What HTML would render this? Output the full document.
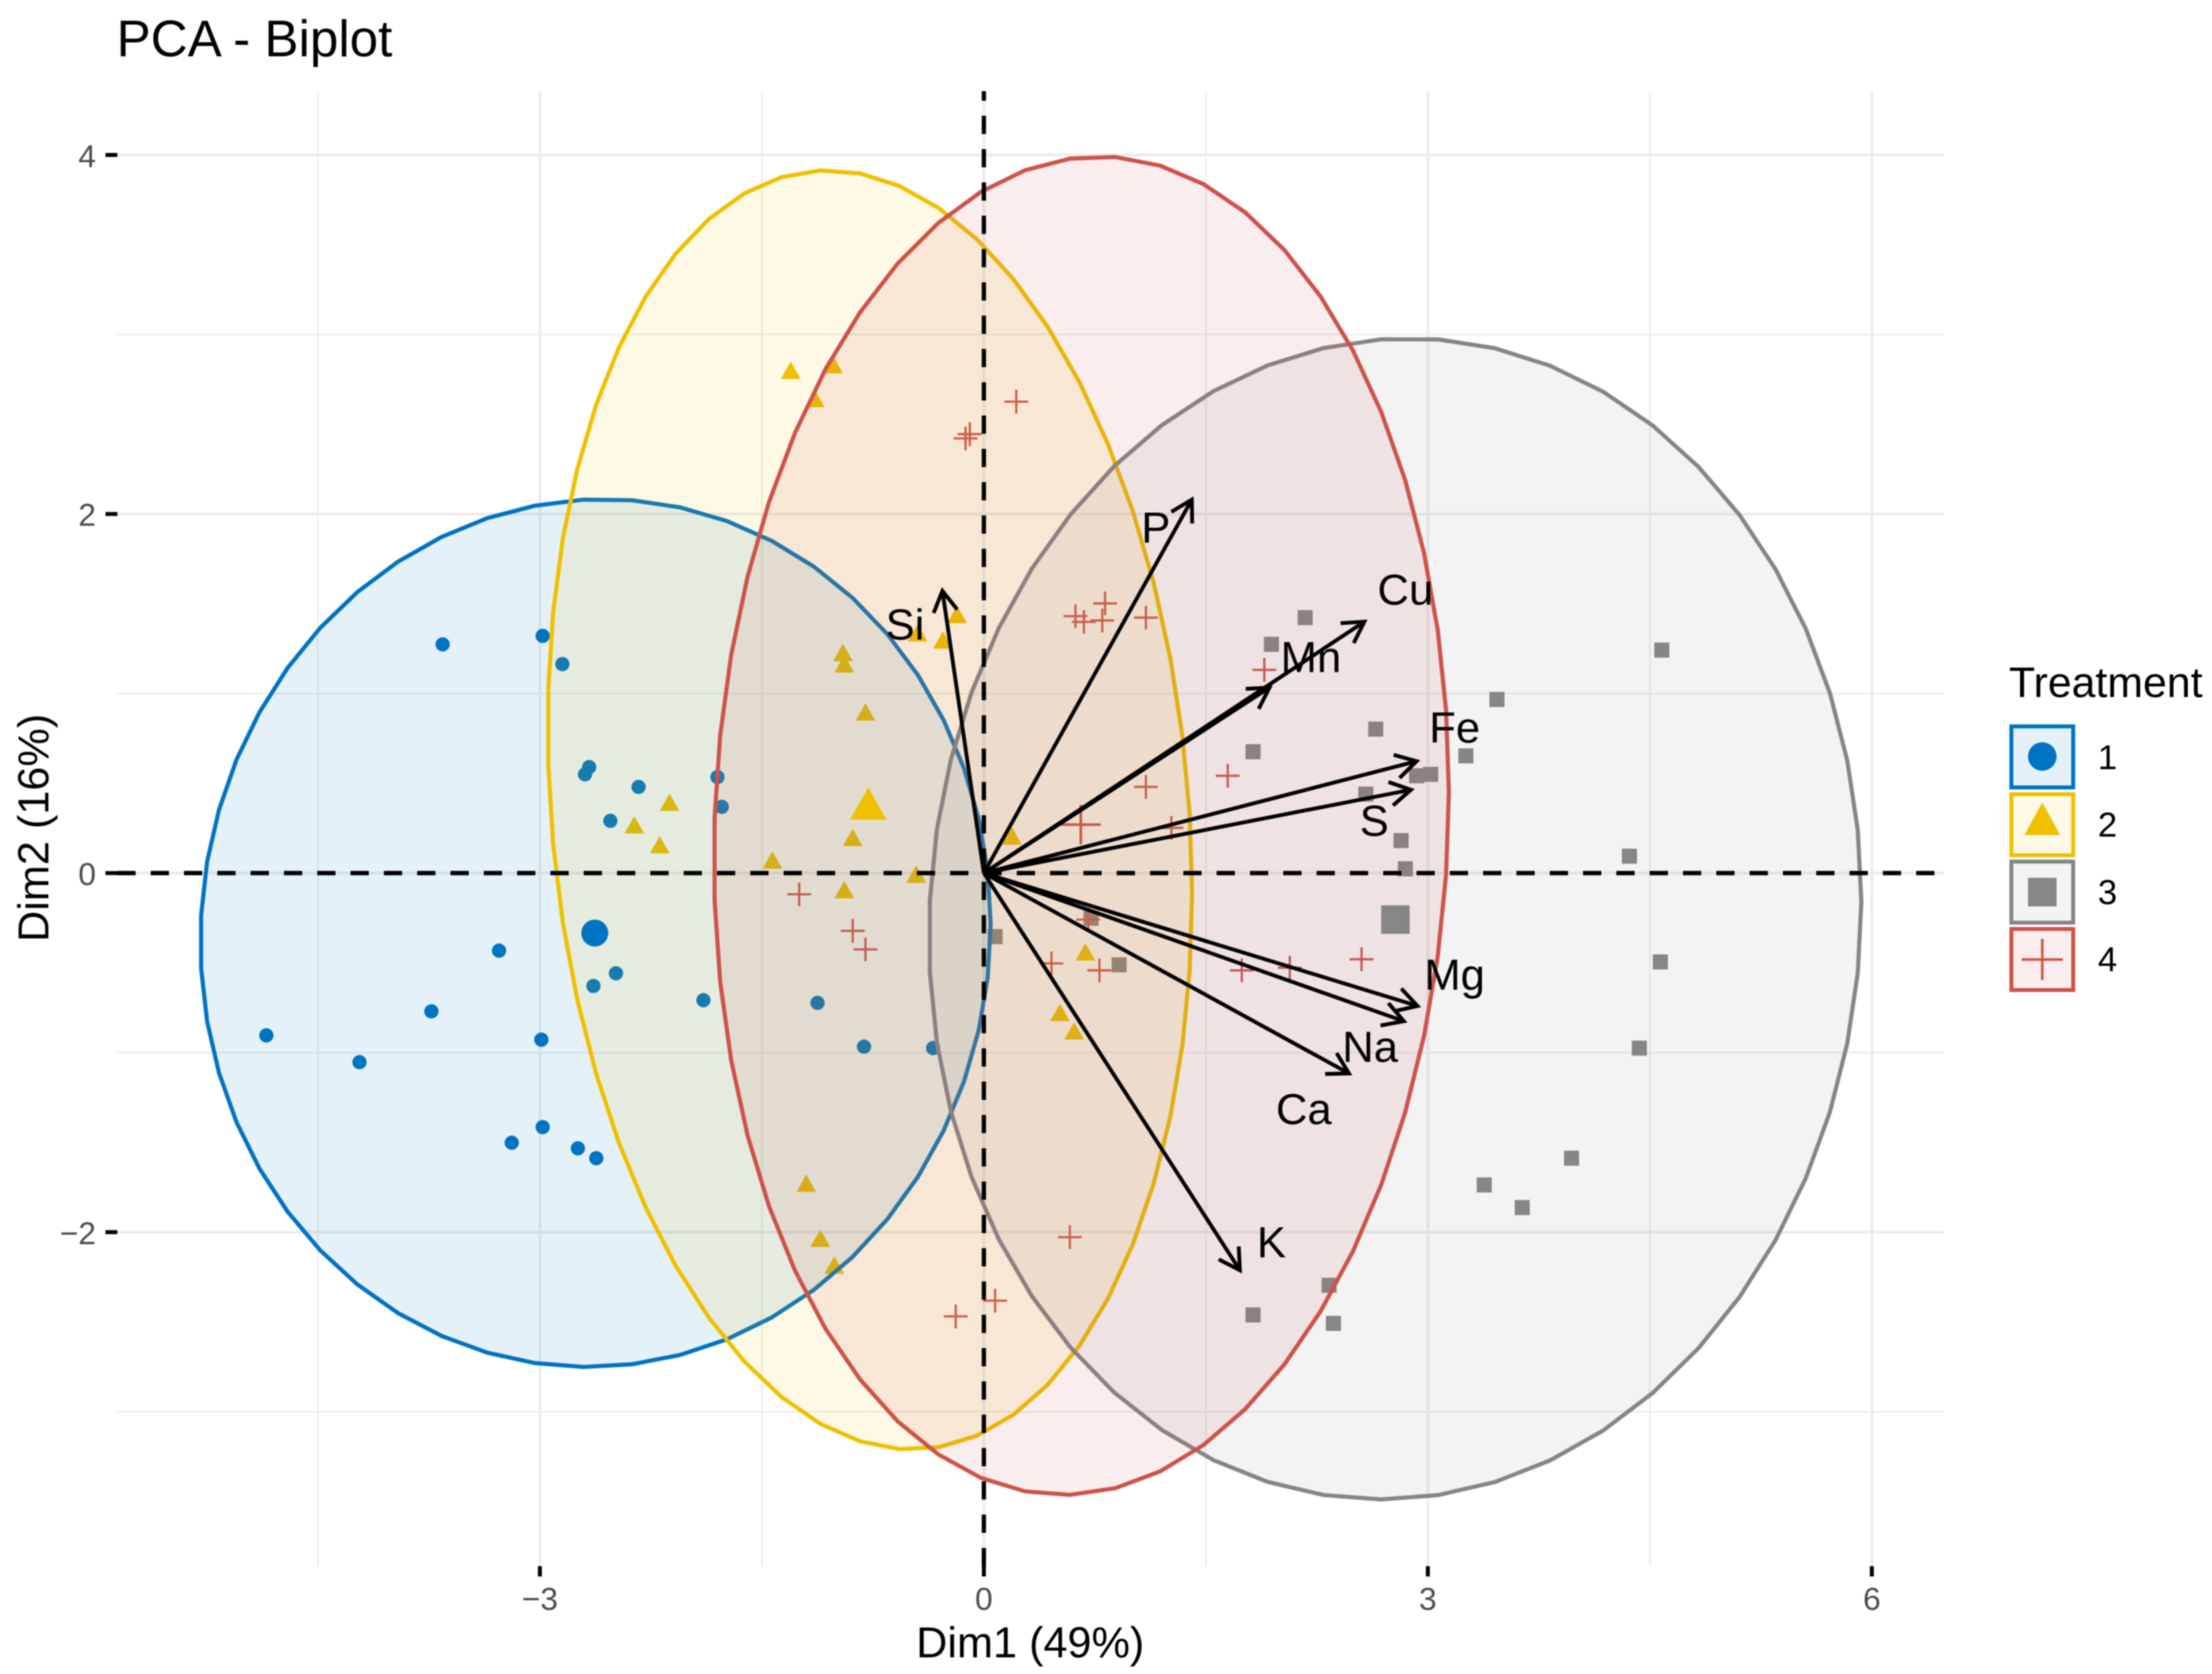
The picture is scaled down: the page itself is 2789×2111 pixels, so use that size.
<!DOCTYPE html>
<html>
<head>
<meta charset="utf-8">
<title>PCA - Biplot</title>
<style>
html,body{margin:0;padding:0;background:#fff;}
svg{display:block;font-family:"Liberation Sans",Arial,sans-serif;filter:blur(0.7px);}
</style>
</head>
<body>
<svg id="chart" xmlns="http://www.w3.org/2000/svg" width="2789" height="2111" viewBox="0 0 2789 2111">
  <rect width="2789" height="2111" fill="#fff"/>
  <g id="layer-grid"></g>
  <g id="layer-points"></g>
  <g id="layer-ellipses"></g>
  <g id="layer-means"></g>
  <g id="layer-ref"></g>
  <g id="layer-arrows"></g>
  <g id="layer-ticks"></g>

  <text x="147" y="71" font-size="64.5" fill="#000">PCA - Biplot</text>
  <text x="1299" y="2090" font-size="54.5" text-anchor="middle" fill="#000">Dim1 (49%)</text>
  <text transform="translate(61,1044) rotate(-90)" font-size="54.5" text-anchor="middle" fill="#000">Dim2 (16%)</text>

  <g>
    <text x="2533" y="879" font-size="54" fill="#000">Treatment</text>
    <g>
      <rect x="2536" y="916" width="78" height="77" fill="#0073C2" fill-opacity="0.1" stroke="#0073C2" stroke-width="5"/>
      <circle cx="2575" cy="954" r="18" fill="#0073C2"/>
      <text x="2645" y="970" font-size="44" fill="#000">1</text>
    </g>
    <g>
      <rect x="2536" y="1001.5" width="78" height="77" fill="#EFC000" fill-opacity="0.1" stroke="#EFC000" stroke-width="5"/>
      <polygon points="2575,1012 2597.5,1053 2552.5,1053" fill="#EFC000"/>
      <text x="2645" y="1055" font-size="44" fill="#000">2</text>
    </g>
    <g>
      <rect x="2536" y="1086.5" width="78" height="77" fill="#868686" fill-opacity="0.1" stroke="#868686" stroke-width="5"/>
      <rect x="2557" y="1107" width="36" height="36" fill="#868686"/>
      <text x="2645" y="1140" font-size="44" fill="#000">3</text>
    </g>
    <g>
      <rect x="2536" y="1171.5" width="78" height="77" fill="#CD534C" fill-opacity="0.1" stroke="#CD534C" stroke-width="5"/>
      <path d="M2549 1210H2601M2575 1184V1236" stroke="#CD534C" stroke-width="3.2" fill="none"/>
      <text x="2645" y="1225" font-size="44" fill="#000">4</text>
    </g>
  </g>
</svg>
<script>
// ---- chart data (all values in PCA data units) ----
const xMajorTicks = [-3, 0, 3, 6];
const xMinorTicks = [-4.5, -1.5, 1.5, 4.5];
const yMajorTicks = [-2, 0, 2, 4];
const yMinorTicks = [-3, -1, 1, 3];
const xTickLabels = ['\u22123', '0', '3', '6'];
const yTickLabels = ['\u22122', '0', '2', '4'];

const group1X = [-3.657,-2.981,-2.848,-2.667,-2.695,-2.333,-2.524,-1.800,-1.771,-3.276,-3.733,-4.848,-4.219,-2.990,-2.638,-2.486,-1.895,-1.124,-0.810,-0.343,-2.981,-3.190,-2.743,-2.619];
const group1Y = [1.274,1.321,1.164,0.590,0.550,0.480,0.291,0.535,0.369,-0.432,-0.770,-0.904,-1.053,-0.928,-0.629,-0.558,-0.708,-0.723,-0.967,-0.975,-1.415,-1.502,-1.533,-1.588];

const group2X = [-1.305,-1.019,-1.143,-0.181,-0.448,-0.276,-0.952,-0.943,-0.800,-2.124,-2.362,-2.190,-0.886,-1.429,-0.943,-0.457,0.190,0.686,0.514,0.610,-1.200,-1.105,-1.010];
const group2Y = [2.791,2.822,2.634,1.431,1.329,1.289,1.219,1.156,0.888,0.385,0.259,0.149,0.189,0.063,-0.102,-0.016,0.197,-0.448,-0.786,-0.888,-1.737,-2.044,-2.193];

const group3X = [2.171,1.943,4.581,3.467,2.648,1.819,3.257,2.924,3.019,2.581,2.819,2.848,4.362,0.076,0.724,0.914,4.571,4.429,3.971,3.381,3.638,2.333,1.819,2.362];
const group3Y = [1.423,1.274,1.242,0.967,0.802,0.676,0.653,0.542,0.550,0.440,0.181,0.024,0.094,-0.354,-0.252,-0.511,-0.495,-0.975,-1.588,-1.737,-1.863,-2.296,-2.461,-2.508];

const group4X = [0.219,-0.095,-0.124,0.819,0.619,0.676,0.800,1.095,1.895,1.648,1.095,1.267,-1.248,-0.886,-0.800,0.457,0.705,0.781,1.743,2.067,2.552,0.581,0.076,-0.190];
const group4Y = [2.626,2.445,2.421,1.502,1.431,1.399,1.407,1.423,1.132,0.542,0.480,0.252,-0.118,-0.322,-0.425,-0.503,-0.259,-0.542,-0.542,-0.527,-0.480,-2.028,-2.382,-2.469];

const meanX = [-2.629, -0.781, 2.781, 0.655];
const meanY = [-0.334, 0.369, -0.259, 0.270];

const ellipseCenterX = [-2.624, -0.770, 2.779, 0.659];
const ellipseCenterY = [-0.334, 0.352, -0.255, 0.264];
const ellipseRadiusX = [2.670, 2.177, 3.150, 2.483];
const ellipseRadiusY = [2.417, 3.563, 3.234, 3.728];
const ellipseTilt = [0.02, -0.13, 0.03, 0.05];

const variableNames = ['P','Si','Cu','Mn','Fe','S','Mg','Na','Ca','K'];
const arrowEndX = [1.405,-0.280,2.571,1.930,2.924,2.886,2.930,2.838,2.467,1.730];
const arrowEndY = [2.080,1.572,1.400,1.033,0.623,0.464,-0.740,-0.825,-1.116,-2.212];
const variableLabelX = [1.162,-0.533,2.848,2.210,3.181,2.638,3.181,2.610,2.162,1.943];
const variableLabelY = [1.926,1.384,1.580,1.203,0.810,0.291,-0.566,-0.967,-1.313,-2.055];

// ---- axis functions ----
const panel = {left:148, right:2451, top:115, bottom:1975};
const xScale = v => 1240.5 + v * 186.6;
const yScale = v => 1101 - v * 226.4;
const NS = 'http://www.w3.org/2000/svg';
function make(tag, attrs, parent){
  const el = document.createElementNS(NS, tag);
  for (const k in attrs) el.setAttribute(k, attrs[k]);
  parent.appendChild(el);
  return el;
}
const L = id => document.getElementById(id);
const colors = ['#0073C2','#EFC000','#868686','#CD534C'];

// grid
xMinorTicks.forEach(v => {
  const el = make('line',{x1:xScale(v),x2:xScale(v),y1:panel.top,y2:panel.bottom,stroke:'#EBEBEB','stroke-width':2},L('layer-grid'));
  
  
});
yMinorTicks.forEach(v => {
  const el = make('line',{x1:panel.left,x2:panel.right,y1:yScale(v),y2:yScale(v),stroke:'#EBEBEB','stroke-width':2},L('layer-grid'));
  
  
});
xMajorTicks.forEach(v => {
  const el = make('line',{x1:xScale(v),x2:xScale(v),y1:panel.top,y2:panel.bottom,stroke:'#EBEBEB','stroke-width':3.5},L('layer-grid'));
  
  
});
yMajorTicks.forEach(v => {
  const el = make('line',{x1:panel.left,x2:panel.right,y1:yScale(v),y2:yScale(v),stroke:'#EBEBEB','stroke-width':3.5},L('layer-grid'));
  
  
});

// marker drawing
function drawMarker(kind, px, py, size, parent){
  const c = colors[kind];
  let el;
  if (kind === 0) {
    el = make('circle',{cx:px,cy:py,r:size/2,fill:c},parent);
  } else if (kind === 1) {
    const h = size * 0.88;
    el = make('polygon',{points:`${px},${py-h*0.6} ${px+size/2},${py+h*0.4} ${px-size/2},${py+h*0.4}`,fill:c},parent);
  } else if (kind === 2) {
    el = make('rect',{x:px-size/2,y:py-size/2,width:size,height:size,fill:c},parent);
  } else {
    el = make('path',{d:`M${px-size/2} ${py}H${px+size/2}M${px} ${py-size/2}V${py+size/2}`,stroke:c,'stroke-width':size>40?3.2:2.8,fill:'none'},parent);
  }
  return el;
}

// individual points (underneath the ellipse fills)
[[group1X,group1Y,18],[group2X,group2Y,25],[group3X,group3Y,19],[group4X,group4Y,30]].forEach((g,kind) => {
  g[0].forEach((v,i) => {
    const el = drawMarker(kind, xScale(v), yScale(g[1][i]), g[2], L('layer-points'));
    
    
  });
});

// ellipses (51-segment outlines like stat_ellipse)
ellipseCenterX.forEach((cx,i) => {
  const pts = [];
  for (let s = 0; s <= 51; s++) {
    const t = s * 2 * Math.PI / 51;
    const dx = ellipseRadiusX[i] * Math.cos(t);
    const dy = ellipseRadiusY[i] * Math.sin(t + Math.asin(ellipseTilt[i]));
    pts.push(xScale(cx + dx).toFixed(1) + ',' + yScale(ellipseCenterY[i] + dy).toFixed(1));
  }
  const el = make('polygon',{points:pts.join(' '),fill:colors[i],'fill-opacity':0.1,stroke:colors[i],'stroke-width':5.2,'stroke-linejoin':'round'},L('layer-ellipses'));
  
  
});

// group means
const meanSizes = [34,46,36,50];
meanX.forEach((v,i) => {
  const el = drawMarker(i, xScale(v), yScale(meanY[i]), meanSizes[i], L('layer-means'));
  
  
});

// dashed reference lines
const hRef = make('line',{x1:panel.left,x2:panel.right,y1:yScale(0),y2:yScale(0),stroke:'#000','stroke-width':5.4,'stroke-dasharray':'23 19'},L('layer-ref'));


const vRef = make('line',{x1:xScale(0),x2:xScale(0),y1:panel.bottom,y2:panel.top,stroke:'#000','stroke-width':5.4,'stroke-dasharray':'23 19'},L('layer-ref'));



// arrows and variable labels
variableNames.forEach((name,i) => {
  const x0 = xScale(0), y0 = yScale(0), x1 = xScale(arrowEndX[i]), y1 = yScale(arrowEndY[i]);
  const a = Math.atan2(y1-y0, x1-x0), len = 30, spread = Math.PI/6;
  const d = `M${x0} ${y0}L${x1} ${y1}M${x1-len*Math.cos(a-spread)} ${y1-len*Math.sin(a-spread)}L${x1} ${y1}L${x1-len*Math.cos(a+spread)} ${y1-len*Math.sin(a+spread)}`;
  const arrow = make('path',{d:d,fill:'none',stroke:'#000','stroke-width':4.8},L('layer-arrows'));
  
  
  const label = make('text',{x:xScale(variableLabelX[i]),y:yScale(variableLabelY[i]),'font-size':55,'text-anchor':'middle','dominant-baseline':'central',fill:'#000'},L('layer-arrows'));
  label.textContent = name;
  
  
});

// axis ticks + tick labels
xMajorTicks.forEach((v,i) => {
  const t = make('line',{x1:xScale(v),x2:xScale(v),y1:panel.bottom,y2:panel.bottom+13,stroke:'#000','stroke-width':5},L('layer-ticks'));
  
  
  const lab = make('text',{x:xScale(v),y:2030,'font-size':40,'text-anchor':'middle',fill:'#4D4D4D'},L('layer-ticks'));
  lab.textContent = xTickLabels[i];
  
  
});
yMajorTicks.forEach((v,i) => {
  const t = make('line',{x1:panel.left-15,x2:panel.left,y1:yScale(v),y2:yScale(v),stroke:'#000','stroke-width':5},L('layer-ticks'));
  
  
  const lab = make('text',{x:121,y:yScale(v)+15,'font-size':40,'text-anchor':'end',fill:'#4D4D4D'},L('layer-ticks'));
  lab.textContent = yTickLabels[i];
  
  
});
</script>
</body>
</html>
